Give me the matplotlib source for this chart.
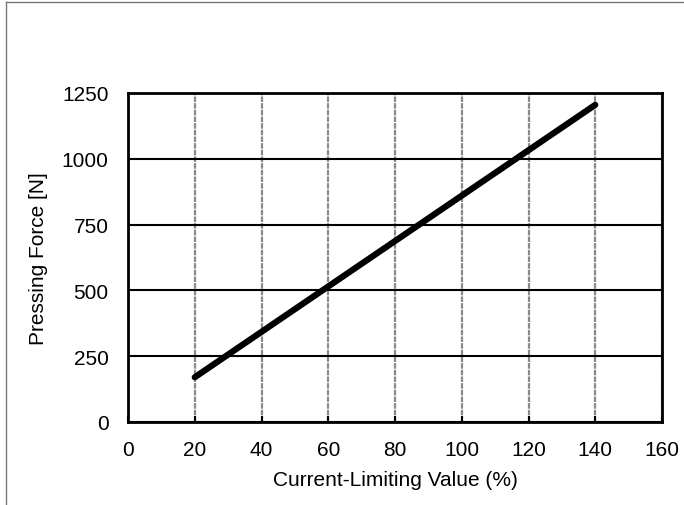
import matplotlib.pyplot as plt
from matplotlib.lines import Line2D

plt.rcParams['font.family'] = ['Liberation Sans', 'DejaVu Sans']

current = [20, 140]
force = [170, 1205]
xticks = [0, 20, 40, 60, 80, 100, 120, 140, 160]
yticks = [0, 250, 500, 750, 1000, 1250]

fig = plt.figure(figsize=(6.84, 5.06), dpi=100)
ax = fig.add_axes([128 / 684, 83 / 506, 534 / 684, 329 / 506])

ax.plot(current, force, color='black', linewidth=4.5, solid_capstyle='round', zorder=3)

ax.set_xlim(0, 160)
ax.set_ylim(0, 1250)
ax.set_xticks(xticks)
ax.set_yticks(yticks)

# horizontal grid solid black, vertical grid dashed grey
ax.yaxis.grid(True, color='black', linewidth=1.5)
ax.xaxis.grid(True, color='#8a8a8a', linewidth=1.6, linestyle=(0, (2.5, 0.5)))
ax.set_axisbelow(True)

for s in ax.spines.values():
    s.set_linewidth(2)
    s.set_color('black')

fs = 15
ax.tick_params(axis='x', direction='in', length=4, width=1.5, pad=13, labelsize=fs)
ax.tick_params(axis='y', length=0, pad=14, labelsize=fs)

ax.set_xlabel('Current-Limiting Value (%)', fontsize=fs, labelpad=8)
ax.set_ylabel('Pressing Force [N]', fontsize=fs, labelpad=10)

# partial figure frame visible in the crop
fig.add_artist(Line2D([6 / 684, 6 / 684], [0, 1 - 3 / 506], transform=fig.transFigure,
                      color='#777777', linewidth=1))
fig.add_artist(Line2D([6 / 684, 1], [1 - 3 / 506, 1 - 3 / 506], transform=fig.transFigure,
                      color='#777777', linewidth=1))

fig.savefig('out.png', dpi=100)
